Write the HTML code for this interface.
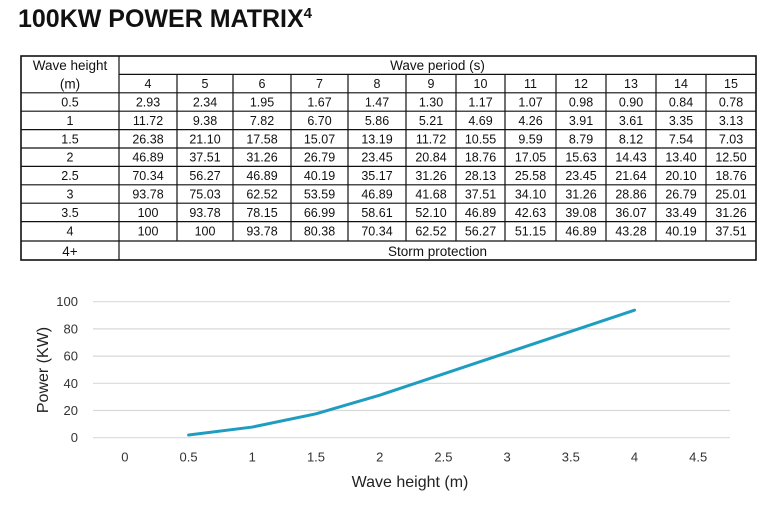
<!DOCTYPE html>
<html>
<head>
<meta charset="utf-8">
<style>
  html,body{margin:0;padding:0;background:#fff;}
  svg{display:block;}
  text{font-family:"Liberation Sans", Arial, sans-serif;}
</style>
</head>
<body>
<svg width="773" height="529" viewBox="0 0 773 529" xmlns="http://www.w3.org/2000/svg">
  <rect width="773" height="529" fill="#fff"/>
  <!-- Title -->
  <text x="18" y="27" font-size="25" font-weight="bold" fill="#111">100KW POWER MATRIX<tspan font-size="15" dy="-9">4</tspan></text>

  <!-- Table -->
  <g stroke="#111" stroke-width="1.2" fill="none">
    <rect x="21" y="56" width="735" height="204" stroke-width="1.6"/>
    <!-- horizontal lines -->
    <line x1="119" y1="74.4" x2="756" y2="74.4"/>
    <line x1="21" y1="92.8" x2="756" y2="92.8"/>
    <line x1="21" y1="111.2" x2="756" y2="111.2"/>
    <line x1="21" y1="129.6" x2="756" y2="129.6"/>
    <line x1="21" y1="148" x2="756" y2="148"/>
    <line x1="21" y1="166.4" x2="756" y2="166.4"/>
    <line x1="21" y1="184.8" x2="756" y2="184.8"/>
    <line x1="21" y1="203.2" x2="756" y2="203.2"/>
    <line x1="21" y1="221.6" x2="756" y2="221.6"/>
    <line x1="21" y1="241" x2="756" y2="241"/>
    <!-- vertical lines -->
    <line x1="119" y1="56" x2="119" y2="260"/>
    <line x1="177" y1="74.4" x2="177" y2="241"/>
    <line x1="233" y1="74.4" x2="233" y2="241"/>
    <line x1="291" y1="74.4" x2="291" y2="241"/>
    <line x1="348" y1="74.4" x2="348" y2="241"/>
    <line x1="406" y1="74.4" x2="406" y2="241"/>
    <line x1="456" y1="74.4" x2="456" y2="241"/>
    <line x1="505" y1="74.4" x2="505" y2="241"/>
    <line x1="556" y1="74.4" x2="556" y2="241"/>
    <line x1="606" y1="74.4" x2="606" y2="241"/>
    <line x1="656" y1="74.4" x2="656" y2="241"/>
    <line x1="706" y1="74.4" x2="706" y2="241"/>
  </g>

  <g fill="#111" text-anchor="middle" font-size="13.5">
    <text x="70" y="70">Wave height</text>
    <text x="70" y="88.5">(m)</text>
    <text x="437.5" y="70">Wave period (s)</text>
    <text x="437.5" y="256">Storm protection</text>
    <text x="70" y="256">4+</text>
  </g>

  <g fill="#111" text-anchor="middle" font-size="12.5">
    <!-- column headers -->
    <text x="148" y="88">4</text><text x="205" y="88">5</text><text x="262" y="88">6</text><text x="319.5" y="88">7</text>
    <text x="377" y="88">8</text><text x="431" y="88">9</text><text x="480.5" y="88">10</text><text x="530.5" y="88">11</text>
    <text x="581" y="88">12</text><text x="631" y="88">13</text><text x="681" y="88">14</text><text x="731" y="88">15</text>

    <!-- row labels -->
    <text x="70" y="106.5">0.5</text>
    <text x="70" y="124.9">1</text>
    <text x="70" y="143.3">1.5</text>
    <text x="70" y="161.7">2</text>
    <text x="70" y="180.1">2.5</text>
    <text x="70" y="198.5">3</text>
    <text x="70" y="216.9">3.5</text>
    <text x="70" y="235.3">4</text>

    <!-- row 0.5 -->
    <g transform="translate(0,106.5)">
      <text x="148" y="0">2.93</text><text x="205" y="0">2.34</text><text x="262" y="0">1.95</text><text x="319.5" y="0">1.67</text>
      <text x="377" y="0">1.47</text><text x="431" y="0">1.30</text><text x="480.5" y="0">1.17</text><text x="530.5" y="0">1.07</text>
      <text x="581" y="0">0.98</text><text x="631" y="0">0.90</text><text x="681" y="0">0.84</text><text x="731" y="0">0.78</text>
    </g>
    <g transform="translate(0,124.9)">
      <text x="148" y="0">11.72</text><text x="205" y="0">9.38</text><text x="262" y="0">7.82</text><text x="319.5" y="0">6.70</text>
      <text x="377" y="0">5.86</text><text x="431" y="0">5.21</text><text x="480.5" y="0">4.69</text><text x="530.5" y="0">4.26</text>
      <text x="581" y="0">3.91</text><text x="631" y="0">3.61</text><text x="681" y="0">3.35</text><text x="731" y="0">3.13</text>
    </g>
    <g transform="translate(0,143.3)">
      <text x="148" y="0">26.38</text><text x="205" y="0">21.10</text><text x="262" y="0">17.58</text><text x="319.5" y="0">15.07</text>
      <text x="377" y="0">13.19</text><text x="431" y="0">11.72</text><text x="480.5" y="0">10.55</text><text x="530.5" y="0">9.59</text>
      <text x="581" y="0">8.79</text><text x="631" y="0">8.12</text><text x="681" y="0">7.54</text><text x="731" y="0">7.03</text>
    </g>
    <g transform="translate(0,161.7)">
      <text x="148" y="0">46.89</text><text x="205" y="0">37.51</text><text x="262" y="0">31.26</text><text x="319.5" y="0">26.79</text>
      <text x="377" y="0">23.45</text><text x="431" y="0">20.84</text><text x="480.5" y="0">18.76</text><text x="530.5" y="0">17.05</text>
      <text x="581" y="0">15.63</text><text x="631" y="0">14.43</text><text x="681" y="0">13.40</text><text x="731" y="0">12.50</text>
    </g>
    <g transform="translate(0,180.1)">
      <text x="148" y="0">70.34</text><text x="205" y="0">56.27</text><text x="262" y="0">46.89</text><text x="319.5" y="0">40.19</text>
      <text x="377" y="0">35.17</text><text x="431" y="0">31.26</text><text x="480.5" y="0">28.13</text><text x="530.5" y="0">25.58</text>
      <text x="581" y="0">23.45</text><text x="631" y="0">21.64</text><text x="681" y="0">20.10</text><text x="731" y="0">18.76</text>
    </g>
    <g transform="translate(0,198.5)">
      <text x="148" y="0">93.78</text><text x="205" y="0">75.03</text><text x="262" y="0">62.52</text><text x="319.5" y="0">53.59</text>
      <text x="377" y="0">46.89</text><text x="431" y="0">41.68</text><text x="480.5" y="0">37.51</text><text x="530.5" y="0">34.10</text>
      <text x="581" y="0">31.26</text><text x="631" y="0">28.86</text><text x="681" y="0">26.79</text><text x="731" y="0">25.01</text>
    </g>
    <g transform="translate(0,216.9)">
      <text x="148" y="0">100</text><text x="205" y="0">93.78</text><text x="262" y="0">78.15</text><text x="319.5" y="0">66.99</text>
      <text x="377" y="0">58.61</text><text x="431" y="0">52.10</text><text x="480.5" y="0">46.89</text><text x="530.5" y="0">42.63</text>
      <text x="581" y="0">39.08</text><text x="631" y="0">36.07</text><text x="681" y="0">33.49</text><text x="731" y="0">31.26</text>
    </g>
    <g transform="translate(0,235.3)">
      <text x="148" y="0">100</text><text x="205" y="0">100</text><text x="262" y="0">93.78</text><text x="319.5" y="0">80.38</text>
      <text x="377" y="0">70.34</text><text x="431" y="0">62.52</text><text x="480.5" y="0">56.27</text><text x="530.5" y="0">51.15</text>
      <text x="581" y="0">46.89</text><text x="631" y="0">43.28</text><text x="681" y="0">40.19</text><text x="731" y="0">37.51</text>
    </g>
  </g>

  <!-- Chart gridlines -->
  <g stroke="#d9d9d9" stroke-width="1.2">
    <line x1="93" y1="301.7" x2="730" y2="301.7"/>
    <line x1="93" y1="328.9" x2="730" y2="328.9"/>
    <line x1="93" y1="356.1" x2="730" y2="356.1"/>
    <line x1="93" y1="383.3" x2="730" y2="383.3"/>
    <line x1="93" y1="410.5" x2="730" y2="410.5"/>
    <line x1="93" y1="437.7" x2="730" y2="437.7"/>
  </g>

  <!-- Y tick labels -->
  <g fill="#333" font-size="13" text-anchor="end">
    <text x="78" y="306.2">100</text>
    <text x="78" y="333.4">80</text>
    <text x="78" y="360.6">60</text>
    <text x="78" y="387.8">40</text>
    <text x="78" y="415">20</text>
    <text x="78" y="442.2">0</text>
  </g>

  <!-- X tick labels -->
  <g fill="#333" font-size="13" text-anchor="middle">
    <text x="124.9" y="461.5">0</text>
    <text x="188.6" y="461.5">0.5</text>
    <text x="252.3" y="461.5">1</text>
    <text x="316" y="461.5">1.5</text>
    <text x="379.7" y="461.5">2</text>
    <text x="443.4" y="461.5">2.5</text>
    <text x="507.1" y="461.5">3</text>
    <text x="570.8" y="461.5">3.5</text>
    <text x="634.5" y="461.5">4</text>
    <text x="698.2" y="461.5">4.5</text>
  </g>

  <!-- Axis titles -->
  <text x="410" y="487" font-size="16" fill="#222" text-anchor="middle">Wave height (m)</text>
  <text transform="translate(48,370) rotate(-90)" font-size="16" fill="#222" text-anchor="middle">Power (KW)</text>

  <!-- Series line -->
  <polyline fill="none" stroke="#1f9dc0" stroke-width="3" stroke-linejoin="round" stroke-linecap="round"
    points="188.6,435.05 252.3,427.06 316,413.79 379.7,395.19 443.4,373.93 507.1,352.67 570.8,331.42 634.5,310.16"/>
</svg>
</body>
</html>
